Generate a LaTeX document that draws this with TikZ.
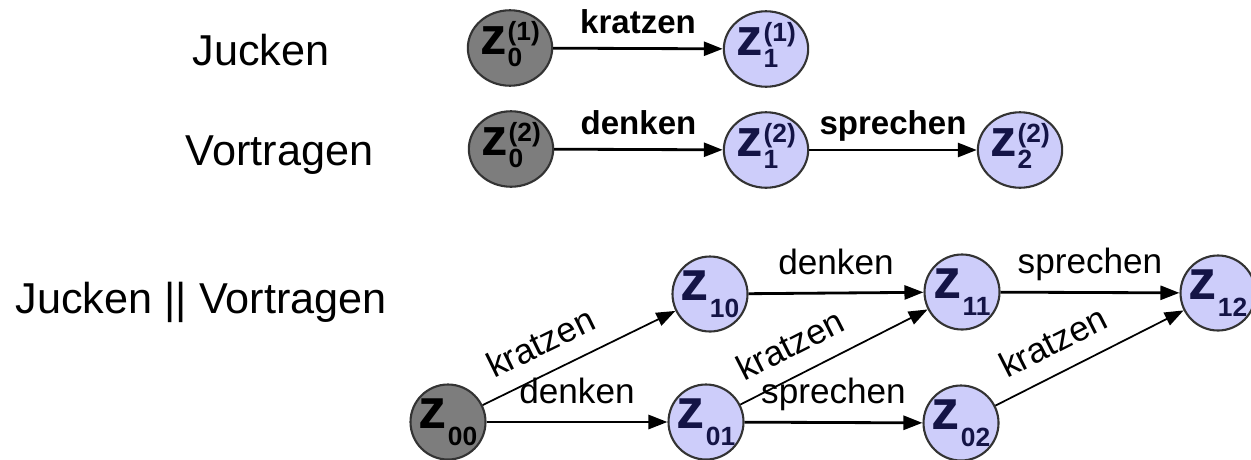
\documentclass[tikz,border=0pt]{standalone}
\usepackage{fontspec}
\setmainfont{Liberation Sans}
\usetikzlibrary{arrows.meta,shapes.geometric}
\definecolor{stategray}{RGB}{125,125,125}
\definecolor{stateblue}{RGB}{205,205,250}
\definecolor{statetext}{RGB}{20,20,70}
\newcommand{\zidx}[2]{z\kern.02em{\fontsize{7.5}{7.5}\selectfont\begin{tabular}[c]{@{}l@{}}(#2)\\#1\end{tabular}}}
\newcommand{\zsub}[1]{z\kern.02em\raisebox{-.3em}{\fontsize{7.5}{7.5}\selectfont #1}}

\begin{document}
\begin{tikzpicture}[
  zseq/.style={ellipse,draw=black!80,line width=.6pt,minimum width=.76cm,minimum height=.63cm,inner sep=0pt,font=\fontsize{15}{15}\selectfont\bfseries},
  zpar/.style={circle,draw=black!80,line width=.6pt,minimum size=.75cm,inner sep=0pt,font=\fontsize{16}{16}\selectfont\bfseries},
  zstart/.style={fill=stategray,text=black},
  zrest/.style={fill=stateblue,text=statetext},
  seqarr/.style={-{Triangle[length=.19cm,width=.14cm]},line width=.8pt},
  pararr/.style={-{Triangle[length=.19cm,width=.14cm]},line width=.5pt},
  seqlbl/.style={font=\fontsize{9.4}{10}\selectfont\bfseries,inner sep=0pt,text depth=0pt,above=4pt},
  parlbl/.style={font=\fontsize{10}{11}\selectfont,inner sep=0pt,text depth=0pt,above=5pt},
  rowname/.style={font=\fontsize{12.3}{13}\selectfont,anchor=base west,inner sep=0pt}]
\useasboundingbox (0,0) rectangle (12.51,-4.59);

% Jucken
\node[rowname] (tj) at (1.92,-.65) {Jucken};
\node[zseq,zstart] (j0) at (5.10,-.48) {\zidx{0}{1}};
\node[zseq,zrest] (j1) at (7.66,-.49) {\zidx{1}{1}};
\draw[seqarr] (j0) -- node[seqlbl] {kratzen} (j1);

% Vortragen
\node[rowname] (tv) at (1.85,-1.65) {Vortragen};
\node[zseq,zstart] (v0) at (5.11,-1.49) {\zidx{0}{2}};
\node[zseq,zrest] (v1) at (7.66,-1.50) {\zidx{1}{2}};
\node[zseq,zrest] (v2) at (10.20,-1.50) {\zidx{2}{2}};
\draw[seqarr] (v0) -- node[seqlbl] {denken} (v1);
\draw[seqarr] (v1) -- node[seqlbl] {sprechen} (v2);

% Jucken || Vortragen
\node[rowname] (tp) at (.15,-3.13) {Jucken || Vortragen};
\node[zpar,zstart] (z00) at (4.48,-4.22) {\zsub{00}};
\node[zpar,zrest] (z01) at (7.06,-4.22) {\zsub{01}};
\node[zpar,zrest] (z02) at (9.61,-4.23) {\zsub{02}};
\node[zpar,zrest] (z10) at (7.10,-2.94) {\zsub{10}};
\node[zpar,zrest] (z11) at (9.62,-2.92) {\zsub{11}};
\node[zpar,zrest] (z12) at (12.18,-2.93) {\zsub{12}};
\draw[seqarr] (z00) -- node[parlbl] {denken} (z01);
\draw[seqarr] (z01) -- node[parlbl] {sprechen} (z02);
\draw[seqarr] (z10) -- node[parlbl] {denken} (z11);
\draw[seqarr] (z11) -- node[parlbl] {sprechen} (z12);
\draw[pararr] (z00) -- node[parlbl,sloped,pos=.37] {kratzen} (z10);
\draw[pararr] (z01) -- node[parlbl,sloped,pos=.34] {kratzen} (z11);
\draw[pararr] (z02) -- node[parlbl,sloped,pos=.38] {kratzen} (z12);
\end{tikzpicture}
\end{document}
